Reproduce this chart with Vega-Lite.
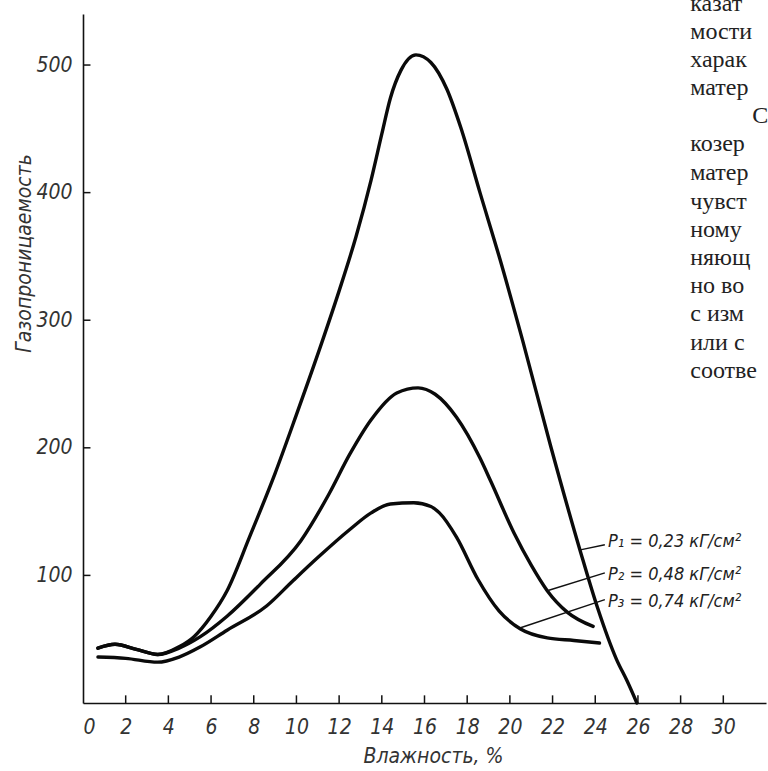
{
  "$schema": "https://vega.github.io/schema/vega-lite/v6.json",
  "width": 683,
  "height": 689,
  "autosize": {"type": "none"},
  "padding": {"left": 83, "top": 14, "right": 2, "bottom": 68},
  "background": "white",
  "config": {
    "view": {"stroke": null},
    "axis": {
      "grid": false,
      "domainColor": "#111",
      "domainWidth": 1.6,
      "ticks": false,
      "tickSize": 0,
      "labelFont": "Liberation Sans Narrow, DejaVu Sans Condensed, Liberation Sans",
      "labelFontStyle": "italic",
      "labelFontSize": 21,
      "labelFontWeight": "normal",
      "labelColor": "#333",
      "titleFont": "Liberation Sans Narrow, DejaVu Sans Condensed, Liberation Sans",
      "titleFontStyle": "italic",
      "titleFontSize": 21,
      "titleFontWeight": "normal",
      "titleColor": "#333"
    }
  },
  "datasets": {
    "curves": [
      {"s": "P1", "x": 0.7, "y": 43}, {"s": "P1", "x": 1.5, "y": 46}, {"s": "P1", "x": 2.5, "y": 42}, {"s": "P1", "x": 3.5, "y": 38}, {"s": "P1", "x": 4.5, "y": 44}, {"s": "P1", "x": 5.2, "y": 52}, {"s": "P1", "x": 6, "y": 68}, {"s": "P1", "x": 6.75, "y": 88}, {"s": "P1", "x": 7.8, "y": 130}, {"s": "P1", "x": 9, "y": 180}, {"s": "P1", "x": 10, "y": 226}, {"s": "P1", "x": 11.2, "y": 283}, {"s": "P1", "x": 12.0, "y": 323}, {"s": "P1", "x": 12.8, "y": 366}, {"s": "P1", "x": 13.5, "y": 410}, {"s": "P1", "x": 14.0, "y": 446}, {"s": "P1", "x": 14.4, "y": 474}, {"s": "P1", "x": 14.9, "y": 496}, {"s": "P1", "x": 15.6, "y": 508}, {"s": "P1", "x": 16.3, "y": 502}, {"s": "P1", "x": 17.05, "y": 481}, {"s": "P1", "x": 17.7, "y": 451}, {"s": "P1", "x": 18.6, "y": 400}, {"s": "P1", "x": 19.55, "y": 347}, {"s": "P1", "x": 20.6, "y": 284}, {"s": "P1", "x": 21.9, "y": 202}, {"s": "P1", "x": 23.3, "y": 119}, {"s": "P1", "x": 24.1, "y": 75}, {"s": "P1", "x": 25, "y": 34}, {"s": "P1", "x": 25.5, "y": 17}, {"s": "P1", "x": 25.95, "y": 0},
      {"s": "P2", "x": 0.7, "y": 43}, {"s": "P2", "x": 1.5, "y": 46}, {"s": "P2", "x": 2.5, "y": 42}, {"s": "P2", "x": 3.5, "y": 38}, {"s": "P2", "x": 4.5, "y": 43}, {"s": "P2", "x": 5.5, "y": 52}, {"s": "P2", "x": 6.75, "y": 68}, {"s": "P2", "x": 8.3, "y": 93}, {"s": "P2", "x": 10.2, "y": 127}, {"s": "P2", "x": 11.5, "y": 163}, {"s": "P2", "x": 12.5, "y": 195}, {"s": "P2", "x": 13.5, "y": 222}, {"s": "P2", "x": 14.7, "y": 243}, {"s": "P2", "x": 15.7, "y": 247}, {"s": "P2", "x": 16.5, "y": 242}, {"s": "P2", "x": 17.5, "y": 224}, {"s": "P2", "x": 18.6, "y": 192}, {"s": "P2", "x": 19.1, "y": 174}, {"s": "P2", "x": 20.2, "y": 133}, {"s": "P2", "x": 21.0, "y": 108}, {"s": "P2", "x": 21.75, "y": 88}, {"s": "P2", "x": 22.7, "y": 71}, {"s": "P2", "x": 23.9, "y": 60},
      {"s": "P3", "x": 0.7, "y": 36}, {"s": "P3", "x": 2, "y": 35}, {"s": "P3", "x": 3.5, "y": 32}, {"s": "P3", "x": 4.5, "y": 36}, {"s": "P3", "x": 5.5, "y": 44}, {"s": "P3", "x": 6.75, "y": 57}, {"s": "P3", "x": 8.6, "y": 76}, {"s": "P3", "x": 9.85, "y": 96}, {"s": "P3", "x": 11, "y": 114}, {"s": "P3", "x": 12.5, "y": 136}, {"s": "P3", "x": 13.5, "y": 149}, {"s": "P3", "x": 14.4, "y": 156}, {"s": "P3", "x": 15.5, "y": 157}, {"s": "P3", "x": 16.3, "y": 154}, {"s": "P3", "x": 16.7, "y": 149}, {"s": "P3", "x": 17.5, "y": 130}, {"s": "P3", "x": 18.5, "y": 97}, {"s": "P3", "x": 19.5, "y": 72}, {"s": "P3", "x": 20.5, "y": 58}, {"s": "P3", "x": 21.75, "y": 51}, {"s": "P3", "x": 23, "y": 49}, {"s": "P3", "x": 24.2, "y": 47}
    ],
    "leaders": [
      {"x": 23.3, "y": 120, "x2": 24.45, "y2": 124},
      {"x": 21.75, "y": 88, "x2": 24.45, "y2": 102},
      {"x": 20.5, "y": 59, "x2": 24.45, "y2": 81}
    ],
    "labels": [
      {"x": 24.6, "y": 126, "t": "P₁ = 0,23 кГ/см²"},
      {"x": 24.6, "y": 100, "t": "P₂ = 0,48 кГ/см²"},
      {"x": 24.6, "y": 79, "t": "P₃ = 0,74 кГ/см²"}
    ],
    "xticks": [{"v": 2}, {"v": 4}, {"v": 6}, {"v": 8}, {"v": 10}, {"v": 12}, {"v": 14}, {"v": 16}, {"v": 18}, {"v": 20}, {"v": 22}, {"v": 24}, {"v": 26}, {"v": 28}, {"v": 30}],
    "yticks": [{"v": 100}, {"v": 200}, {"v": 300}, {"v": 400}, {"v": 500}],
    "page": [
      {"x": 28.45, "y": 548, "t": "казат"},
      {"x": 28.45, "y": 526, "t": "мости"},
      {"x": 28.45, "y": 504, "t": "харак"},
      {"x": 28.45, "y": 482, "t": "матер"},
      {"x": 31.36, "y": 460, "t": "С"},
      {"x": 28.45, "y": 438, "t": "козер"},
      {"x": 28.45, "y": 415, "t": "матер"},
      {"x": 28.45, "y": 393, "t": "чувст"},
      {"x": 28.45, "y": 371, "t": "ному"},
      {"x": 28.45, "y": 349, "t": "няющ"},
      {"x": 28.45, "y": 327, "t": "но во"},
      {"x": 28.45, "y": 305, "t": "с изм"},
      {"x": 28.45, "y": 282, "t": "или с"},
      {"x": 28.45, "y": 260, "t": "соотве"}
    ]
  },
  "layer": [
    {
      "data": {"name": "curves"},
      "mark": {"type": "line", "interpolate": "monotone", "stroke": "#0a0a0a", "strokeWidth": 3.4, "strokeCap": "round"},
      "encoding": {
        "x": {
          "field": "x", "type": "quantitative",
          "scale": {"domain": [0, 32], "nice": false, "zero": true},
          "axis": {
            "values": [0, 2, 4, 6, 8, 10, 12, 14, 16, 18, 20, 22, 24, 26, 28, 30],
            "labelPadding": 13,
            "title": "Влажность, %",
            "titleX": 350,
            "titleY": 53,
            "titleBaseline": "middle",
            "titleAnchor": "middle"
          }
        },
        "y": {
          "field": "y", "type": "quantitative",
          "scale": {"domain": [0, 540], "nice": false, "zero": true},
          "axis": {
            "values": [100, 200, 300, 400, 500],
            "labelPadding": 11,
            "title": "Газопроницаемость",
            "titleX": -59,
            "titleY": 239,
            "titleAngle": -90,
            "titleBaseline": "middle",
            "titleAlign": "center"
          }
        },
        "detail": {"field": "s", "type": "nominal"}
      }
    },
    {
      "data": {"name": "xticks"},
      "mark": {"type": "rule", "stroke": "#111", "strokeWidth": 1.5},
      "encoding": {
        "x": {"field": "v", "type": "quantitative"},
        "y": {"datum": 0},
        "y2": {"datum": 6}
      }
    },
    {
      "data": {"name": "yticks"},
      "mark": {"type": "rule", "stroke": "#111", "strokeWidth": 1.5},
      "encoding": {
        "y": {"field": "v", "type": "quantitative"},
        "x": {"datum": 0},
        "x2": {"datum": 0.35}
      }
    },
    {
      "data": {"name": "leaders"},
      "mark": {"type": "rule", "stroke": "#111", "strokeWidth": 1.5},
      "encoding": {
        "x": {"field": "x", "type": "quantitative"},
        "y": {"field": "y", "type": "quantitative"},
        "x2": {"field": "x2"},
        "y2": {"field": "y2"}
      }
    },
    {
      "data": {"name": "labels"},
      "mark": {"type": "text", "align": "left", "baseline": "middle", "font": "Liberation Sans Narrow, DejaVu Sans Condensed, Liberation Sans", "fontStyle": "italic", "fontSize": 18, "fill": "#222"},
      "encoding": {
        "x": {"field": "x", "type": "quantitative"},
        "y": {"field": "y", "type": "quantitative"},
        "text": {"field": "t"}
      }
    },
    {
      "data": {"name": "page"},
      "mark": {"type": "text", "align": "left", "baseline": "middle", "font": "Liberation Serif", "fontSize": 24, "fill": "#222"},
      "encoding": {
        "x": {"field": "x", "type": "quantitative"},
        "y": {"field": "y", "type": "quantitative"},
        "text": {"field": "t"}
      }
    }
  ]
}
